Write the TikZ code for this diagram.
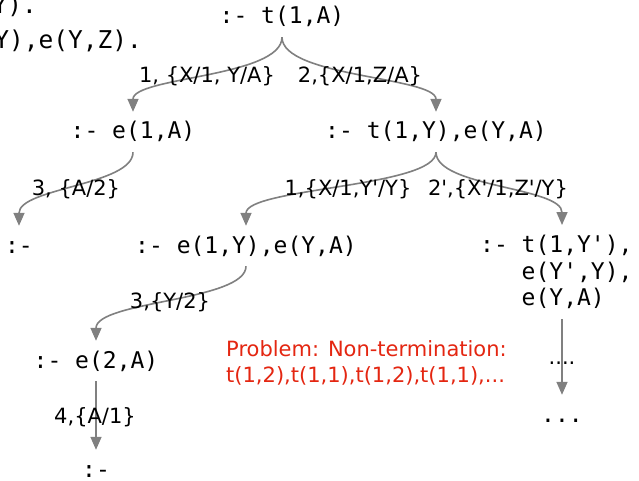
\documentclass[tikz,border=0pt]{standalone}
\usepackage{fontspec}
\setmonofont{DejaVu Sans Mono}
\newfontfamily\lblfont{DejaVu Sans}
\usetikzlibrary{arrows.meta, calc}
\definecolor{arrowGray}{RGB}{128,128,128}
\definecolor{errRed}{RGB}{228,38,17}

\tikzset{
	goal/.style={font=\ttfamily\fontsize{23}{27}\selectfont, inner xsep=0pt, inner ysep=10pt, text height=17pt, text depth=3pt},
	goallines/.style={font=\ttfamily\fontsize{23}{26.5}\selectfont, inner xsep=0pt, inner ysep=10pt, align=left},
	clause/.style={font=\ttfamily\fontsize{24.5}{30}\selectfont, inner sep=0pt},
	subst/.style={font=\lblfont\fontsize{21}{26}\selectfont, inner sep=0pt},
	derive/.style={draw=arrowGray, line width=1.6pt, -{Triangle[length=13pt,width=11pt]}},
}

\begin{document}
\begin{tikzpicture}[x=1pt, y=1pt]
	\clip (0,0) rectangle (639,-481);
	\fill[white] (0,0) rectangle (639,-481);
	% program, cut off at the left
	\node[clause, anchor=base east] (clauseA) at (37,-14)  {t(X,Y) :- e(X,Y).};
	\node[clause, anchor=base east] (clauseB) at (142,-49) {t(X,Z) :- t(X,Y),e(Y,Z).};
	% goals of the SLD tree
	\node[goal, anchor=base] (root) at (282,-24)  {:- t(1,A)};
	\node[goal, anchor=base] (gA)   at (133,-139) {:- e(1,A)};
	\node[goal, anchor=base] (gB)   at (436,-139) {:- t(1,Y),e(Y,A)};
	\node[goal, anchor=base] (gAA)  at (19,-253)  {:-};
	\node[goal, anchor=base] (gBA)  at (246,-253) {:- e(1,Y),e(Y,A)};
	\node[goallines, anchor=north west] (gBB) at (480,-225)
		{:- t(1,Y'),\\\hphantom{:- }e(Y',Y),\\\hphantom{:- }e(Y,A)};
	\node[goal, anchor=base] (gBAA) at (96,-368)  {:- e(2,A)};
	\node[goal, anchor=base] (gEnd) at (96,-477)  {:-};
	\node[goal, anchor=base] (more) at (562,-422) {...};
	% derivation steps
	\draw[derive] (root.south) .. controls +(0,-40) and +(0,35) .. (gA.north);
	\draw[derive] (root.south) .. controls +(0,-40) and +(0,35) .. (gB.north);
	\draw[derive] (gA.south) .. controls +(0,-33) and +(0,38) .. (gAA.north);
	\draw[derive] (gB.south) .. controls +(0,-35) and +(0,38) .. (gBA.north);
	\draw[derive] (gB.south) .. controls +(0,-35) and +(0,38) .. (gBB.north -| more.north);
	\draw[derive] (gBA.south) .. controls +(0,-35) and +(0,40) .. (gBAA.north);
	\draw[derive] (gBAA.south) -- (gEnd.north);
	\draw[derive] (gBB.south -| more.north) -- (more.north);
	% substitutions
	\node[subst, anchor=base] (sA)   at (207,-83)  {1, \{X/1, Y/A\}};
	\node[subst, anchor=base] (sB)   at (360,-83)  {2,\{X/1,Z/A\}};
	\node[subst, anchor=base] (sAA)  at (76,-195)  {3, \{A/2\}};
	\node[subst, anchor=base] (sBA)  at (348,-195) {1,\{X/1,Y\textquotesingle/Y\}};
	\node[subst, anchor=base] (sBB)  at (498,-195) {2\textquotesingle,\{X\textquotesingle/1,Z\textquotesingle/Y\}};
	\node[subst, anchor=base] (sBAA) at (170,-308) {3,\{Y/2\}};
	\node[subst, anchor=base] (sEnd) at (95,-423)  {4,\{A/1\}};
	\node[subst, anchor=base] (dots) at (562,-364) {....};
	% the problem
	\node[subst, text=errRed, align=left, anchor=north west] (problem) at (226,-340)
		{Problem: Non-termination:\\t(1,2),t(1,1),t(1,2),t(1,1),...};
\end{tikzpicture}
\end{document}
